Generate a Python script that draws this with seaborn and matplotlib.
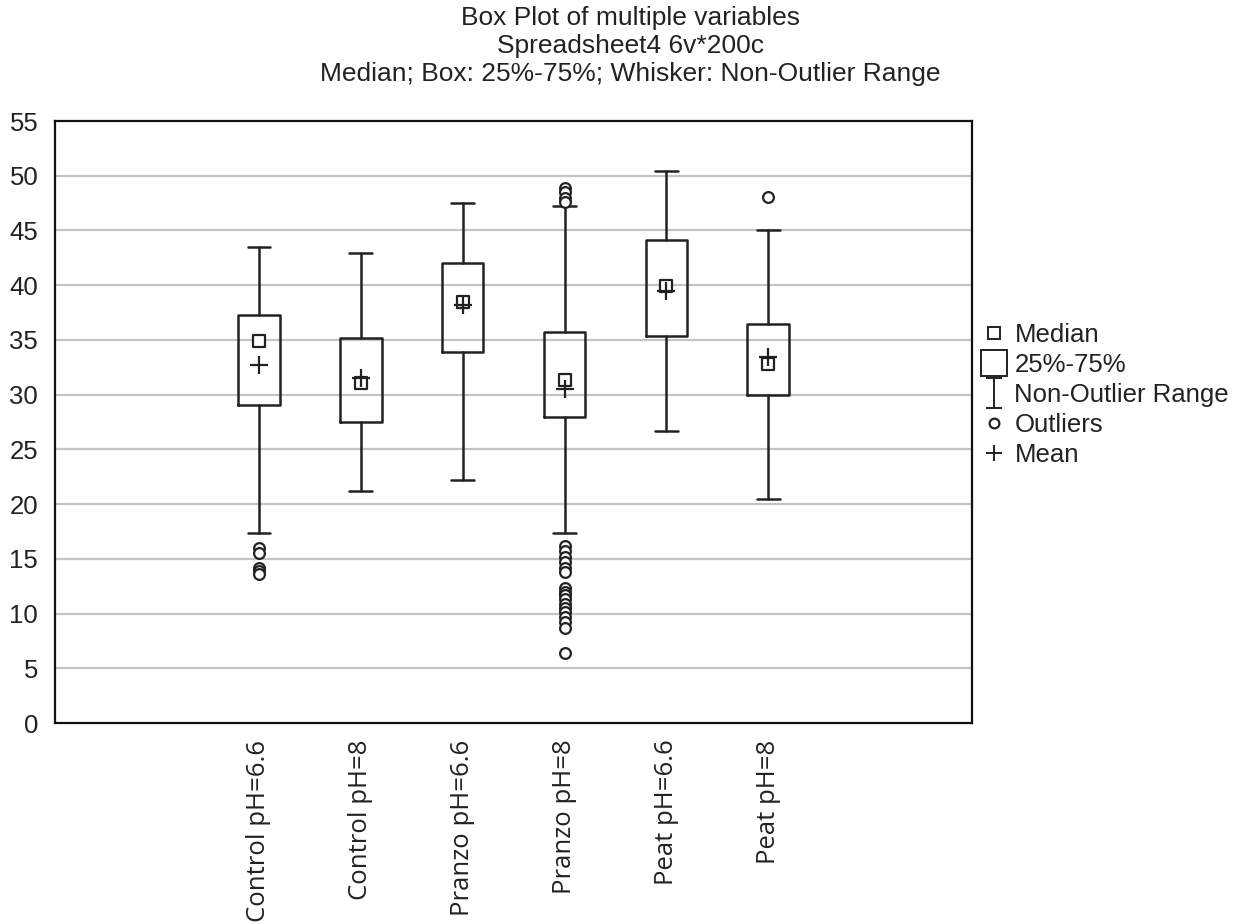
import numpy as np
import pandas as pd
import matplotlib
matplotlib.use("Agg")
import matplotlib.pyplot as plt
from matplotlib.lines import Line2D
from matplotlib.path import Path
import seaborn as sns

# valores
categorias = ["Control pH=6.6", "Control pH=8", "Pranzo pH=6.6",
              "Pranzo pH=8", "Peat pH=6.6", "Peat pH=8"]
medianas = [34.9, 31.1, 38.5, 31.3, 39.9, 32.8]
medias = [32.7, 31.5, 38.2, 30.5, 39.5, 33.4]
q1 = [29.1, 27.5, 33.9, 28.0, 35.4, 30.0]
q3 = [37.3, 35.2, 42.0, 35.7, 44.1, 36.5]
whisk_lo = [17.4, 21.2, 22.2, 17.4, 26.7, 20.5]
whisk_hi = [43.5, 42.9, 47.5, 47.2, 50.4, 45.0]
outliers = [
    [16.0, 15.5, 14.2, 13.9, 13.6],
    [],
    [],
    [48.9, 48.5, 48.0, 47.6, 16.2, 15.7, 15.2, 14.7, 14.2, 13.8,
     12.3, 12.0, 11.7, 11.3, 10.9, 10.5, 10.1, 9.7, 9.2, 8.7, 6.4],
    [],
    [48.1],
]

sns.set_style("white")
plt.rcParams['font.family'] = ['Liberation Sans', 'DejaVu Sans']

pos = np.arange(1, len(categorias) + 1)

fig = plt.figure(figsize=(12.48, 9.24), dpi=100)
ax = fig.add_axes([0.044, 0.2175, 0.735, 0.6515])

# caixas e bigodes
stats = []
for i, c in enumerate(categorias):
    stats.append(dict(label=c, med=medianas[i], q1=q1[i], q3=q3[i],
                      whislo=whisk_lo[i], whishi=whisk_hi[i], fliers=[]))
ax.bxp(stats, positions=pos, widths=0.41, showfliers=False,
       boxprops=dict(color="#222222", linewidth=1.8),
       whiskerprops=dict(color="#222222", linewidth=1.8),
       capprops=dict(color="#222222", linewidth=1.8),
       medianprops=dict(linestyle="none"), capwidths=0.22, zorder=3)

# mediana, media e outliers
df_med = pd.DataFrame({"x": pos, "mediana": medianas, "media": medias})
sns.scatterplot(data=df_med, x="x", y="mediana", marker="s", s=85,
                fc="white", ec="#222222", linewidth=1.6, ax=ax, zorder=4)
sns.scatterplot(data=df_med, x="x", y="media", marker="+", s=150,
                color="#222222", linewidth=1.6, ax=ax, zorder=5)

out_x, out_y = [], []
for p, vals in zip(pos, outliers):
    for v in vals:
        out_x.append(p)
        out_y.append(v)
df_out = pd.DataFrame({"x": out_x, "y": out_y})
sns.scatterplot(data=df_out, x="x", y="y", marker="o", s=60,
                fc="white", ec="#222222", linewidth=1.6, ax=ax, zorder=4)

# eixos
ax.set_xlim(-1, 8)
ax.set_ylim(0, 55)
ax.set_yticks(np.arange(0, 56, 5))
ax.set_xticks(np.arange(0, 8))
ax.set_xticklabels([""] + categorias + [""], rotation=90,
                   family=["Open Sans", "DejaVu Sans"], fontsize=18.5)
ax.tick_params(axis="y", labelsize=18.5, direction="in", length=6, width=1.2,
               colors="#222222", pad=12)
ax.tick_params(axis="x", direction="in", length=8, width=1.2, colors="#222222",
               pad=12)
ax.set_xlabel("")
ax.set_ylabel("")
for y in np.arange(5, 55, 5):
    ax.axhline(y, color="#c4c4c4", linewidth=1.6, zorder=1)
for s in ax.spines.values():
    s.set_color("#111111")
    s.set_linewidth(1.6)

fig.text(0.505, 0.993, "Box Plot of multiple variables\nSpreadsheet4 6v*200c\n"
         "Median; Box: 25%-75%; Whisker: Non-Outlier Range",
         ha="center", va="top", fontsize=19, linespacing=1.2, color="#222222")

# legenda
ibeam = Path([(-0.5, 1), (0.5, 1), (0, 1), (0, -1), (-0.5, -1), (0.5, -1)],
             [Path.MOVETO, Path.LINETO, Path.MOVETO, Path.LINETO,
              Path.MOVETO, Path.LINETO])
handles = [
    Line2D([], [], ls="none", marker="s", ms=8, mfc="white", mec="#222222", mew=1.4),
    Line2D([], [], ls="none", marker="s", ms=19, mfc="white", mec="#222222", mew=1.4),
    Line2D([], [], ls="none", marker=ibeam, ms=22, mec="#222222", mew=1.4),
    Line2D([], [], ls="none", marker="o", ms=7, mfc="white", mec="#222222", mew=1.6),
    Line2D([], [], ls="none", marker="+", ms=12, mec="#222222", mew=1.4),
]
labels = ["Median", "25%-75%", "Non-Outlier Range", "Outliers", "Mean"]
ax.legend(handles, labels, loc="center left", bbox_to_anchor=(0.99, 0.545),
          frameon=False, fontsize=18.5, handlelength=1.0, handletextpad=0.3,
          labelspacing=0.24, borderaxespad=0.3, labelcolor="#222222")

fig.savefig("out.png", dpi=100, facecolor="white")
